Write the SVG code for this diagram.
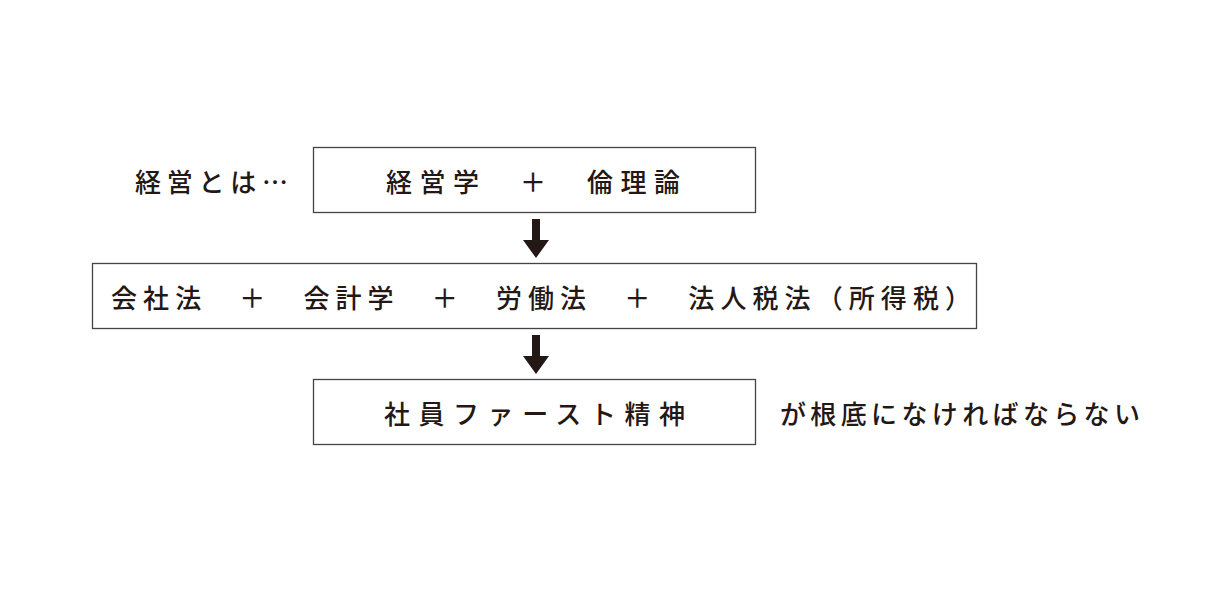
<svg xmlns="http://www.w3.org/2000/svg" width="1215" height="596" viewBox="0 0 1215 596">
<style>
.box{fill:#fff;stroke:#444;stroke-width:1.3}
text{font-family:"Noto Sans CJK JP","Noto Sans CJK SC",sans-serif;font-size:26px;fill:#231815;font-weight:500}
.arr{fill:#231815}
</style>
<rect width="1215" height="596" fill="#fff"/>
<text x="135" y="192" textLength="153" lengthAdjust="spacing">経営とは…</text>
<g id="n1"><rect class="box" x="313.5" y="147.5" width="442" height="65"/><text x="386" y="192" xml:space="preserve" textLength="294" lengthAdjust="spacing">経営学　＋　倫理論</text></g>
<g id="n2"><rect class="box" x="92.5" y="263.5" width="884" height="65"/><text x="111" y="308" xml:space="preserve" textLength="860" lengthAdjust="spacing">会社法　＋　会計学　＋　労働法　＋　法人税法（所得税）</text></g>
<g id="n3"><rect class="box" x="313.5" y="379.5" width="442" height="65"/><text x="384" y="424" textLength="301" lengthAdjust="spacing">社員ファースト精神</text></g>
<text x="780" y="424" textLength="360" lengthAdjust="spacing">が根底になければならない</text>
<g id="connectors">
<polygon class="arr" points="532,219 540,219 540,240 549,240 536,258 523,240 532,240"/>
<polygon class="arr" points="532,335 540,335 540,356 549,356 536,374 523,356 532,356"/>
</g>
</svg>
